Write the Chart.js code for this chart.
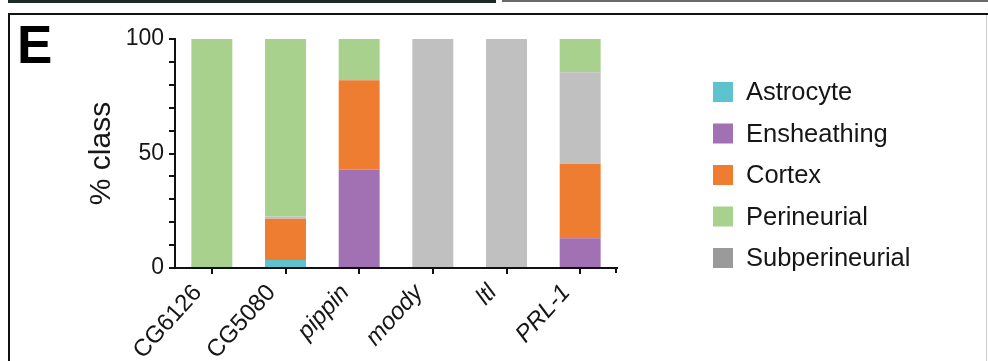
<!DOCTYPE html>
<html>
<head>
<meta charset="utf-8">
<script src="https://cdn.jsdelivr.net/npm/chart.js@4/dist/chart.umd.min.js"></script>
<style>
  html, body { margin: 0; padding: 0; background: #fff; }
  body { width: 988px; height: 361px; position: relative; overflow: hidden; font-family: "Liberation Sans", Arial, sans-serif; }
  .edge { position: absolute; }
  #panelLetter { position: absolute; left: 17px; top: 18px; font: bold 53px/1 "Liberation Sans", Arial, sans-serif; color: #000; }
  canvas { position: absolute; left: 0; top: 0; }
</style>
</head>
<body>
<!-- bottom edges of the panels above -->
<div class="edge" style="left:8px;top:0;width:488px;height:3px;background:#1d2a28;"></div>
<div class="edge" style="left:502px;top:0;width:486px;height:2px;background:#6a6a6a;"></div>
<!-- panel frame -->
<div class="edge" style="left:8px;top:13px;width:980px;height:2px;background:#111;"></div>
<div class="edge" style="left:8px;top:13px;width:2px;height:348px;background:#111;"></div>
<div class="edge" style="left:986px;top:15px;width:1px;height:346px;background:#cfcfcf;"></div>
<div id="panelLetter">E</div>
<canvas id="chart" width="988" height="361"></canvas>
<script>
// Genes along the x axis and the share of each glial class (%)
const genes = ['CG6126', 'CG5080', 'pippin', 'moody', 'ltl', 'PRL-1'];
const geneLabelStyle = ['normal', 'normal', 'italic', 'italic', 'italic', 'italic'];

const astrocyte      = [0,   3.5,  0,  0,   0,   0];
const ensheathing    = [0,   0,   43,  0,   0,  13];
const cortex         = [0,  18,   39,  0,   0,  32.5];
const subperineurial = [0,   1,    0, 100, 100, 40];
const perineurial    = [100, 77.5, 18, 0,   0,  14.5];

const yTickLabels = [0, 50, 100];
const legendOrder = ['Astrocyte', 'Ensheathing', 'Cortex', 'Perineurial', 'Subperineurial'];

const colors = {
  Astrocyte: '#5cc3cf',
  Ensheathing: '#a171b3',
  Cortex: '#ee7d32',
  Perineurial: '#a8d18d',
  Subperineurial: '#c0c0c0'
};
const swatchColors = Object.assign({}, colors, { Subperineurial: '#9a9a9a' });

const FONT = '"Liberation Sans", Arial, sans-serif';
const INK = '#161616';

// datasets listed bottom-to-top in each stacked bar
const series = [
  ['Astrocyte', astrocyte],
  ['Ensheathing', ensheathing],
  ['Cortex', cortex],
  ['Subperineurial', subperineurial],
  ['Perineurial', perineurial]
];

const datasets = series.map(([name, values]) => ({
  label: name,
  data: values,
  backgroundColor: colors[name],
  borderWidth: 0,
  barPercentage: 0.556,
  categoryPercentage: 1.0
}));

// legend drawn as a fixed column of square swatches to the right of the plot
const sideLegend = {
  id: 'sideLegend',
  afterDraw(chart) {
    const ctx = chart.ctx;
    ctx.save();
    ctx.font = '25.5px ' + FONT;
    ctx.textBaseline = 'middle';
    ctx.textAlign = 'left';
    legendOrder.forEach((name, i) => {
      const ds = chart.data.datasets.find(d => d.label === name);
      const cy = 92 + i * 41.5;
      ctx.fillStyle = swatchColors[ds.label];
      ctx.fillRect(713, cy - 10, 20, 20);
      ctx.fillStyle = INK;
      ctx.fillText(ds.label, 746, cy + 1);
    });
    ctx.restore();
  }
};

// short tick closing the right end of the x axis
const axisEndTick = {
  id: 'axisEndTick',
  afterDraw(chart) {
    const { ctx, chartArea } = chart;
    ctx.save();
    ctx.strokeStyle = '#111';
    ctx.lineWidth = 2;
    ctx.beginPath();
    ctx.moveTo(chartArea.right - 1, chartArea.bottom);
    ctx.lineTo(chartArea.right - 1, chartArea.bottom + 5);
    ctx.stroke();
    ctx.restore();
  }
};

new Chart(document.getElementById('chart'), {
  type: 'bar',
  data: { labels: genes, datasets },
  plugins: [sideLegend, axisEndTick],
  options: {
    responsive: false,
    animation: false,
    devicePixelRatio: 1,
    layout: { padding: { left: 0, top: 39, right: 371, bottom: 0 } },
    plugins: { legend: { display: false }, tooltip: { enabled: false } },
    scales: {
      x: {
        stacked: true,
        afterFit: s => { s.height = 93; },
        border: { display: true, color: '#111', width: 2 },
        grid: { display: true, drawOnChartArea: false, drawTicks: true, offset: false, tickLength: 6, color: '#111', lineWidth: 2 },
        ticks: {
          color: INK,
          minRotation: 48,
          maxRotation: 48,
          autoSkip: false,
          padding: 5,
          labelOffset: -14,
          font: c => ({ family: FONT, size: 24, style: geneLabelStyle[c.index] || 'normal' })
        }
      },
      y: {
        stacked: true,
        min: 0,
        max: 100,
        afterFit: s => { s.width = 175; },
        border: { display: true, color: '#111', width: 2 },
        grid: { display: true, drawOnChartArea: false, drawTicks: true, tickLength: 6, color: '#111', lineWidth: 2 },
        ticks: {
          stepSize: 10,
          autoSkip: false,
          color: INK,
          padding: 5,
          font: { family: FONT, size: 23 },
          callback: v => (yTickLabels.includes(v) ? String(v) : '')
        },
        title: {
          display: true,
          text: '% class',
          color: INK,
          font: { family: FONT, size: 30 },
          padding: { top: 84, bottom: 0 }
        }
      }
    }
  }
});
</script>
</body>
</html>
